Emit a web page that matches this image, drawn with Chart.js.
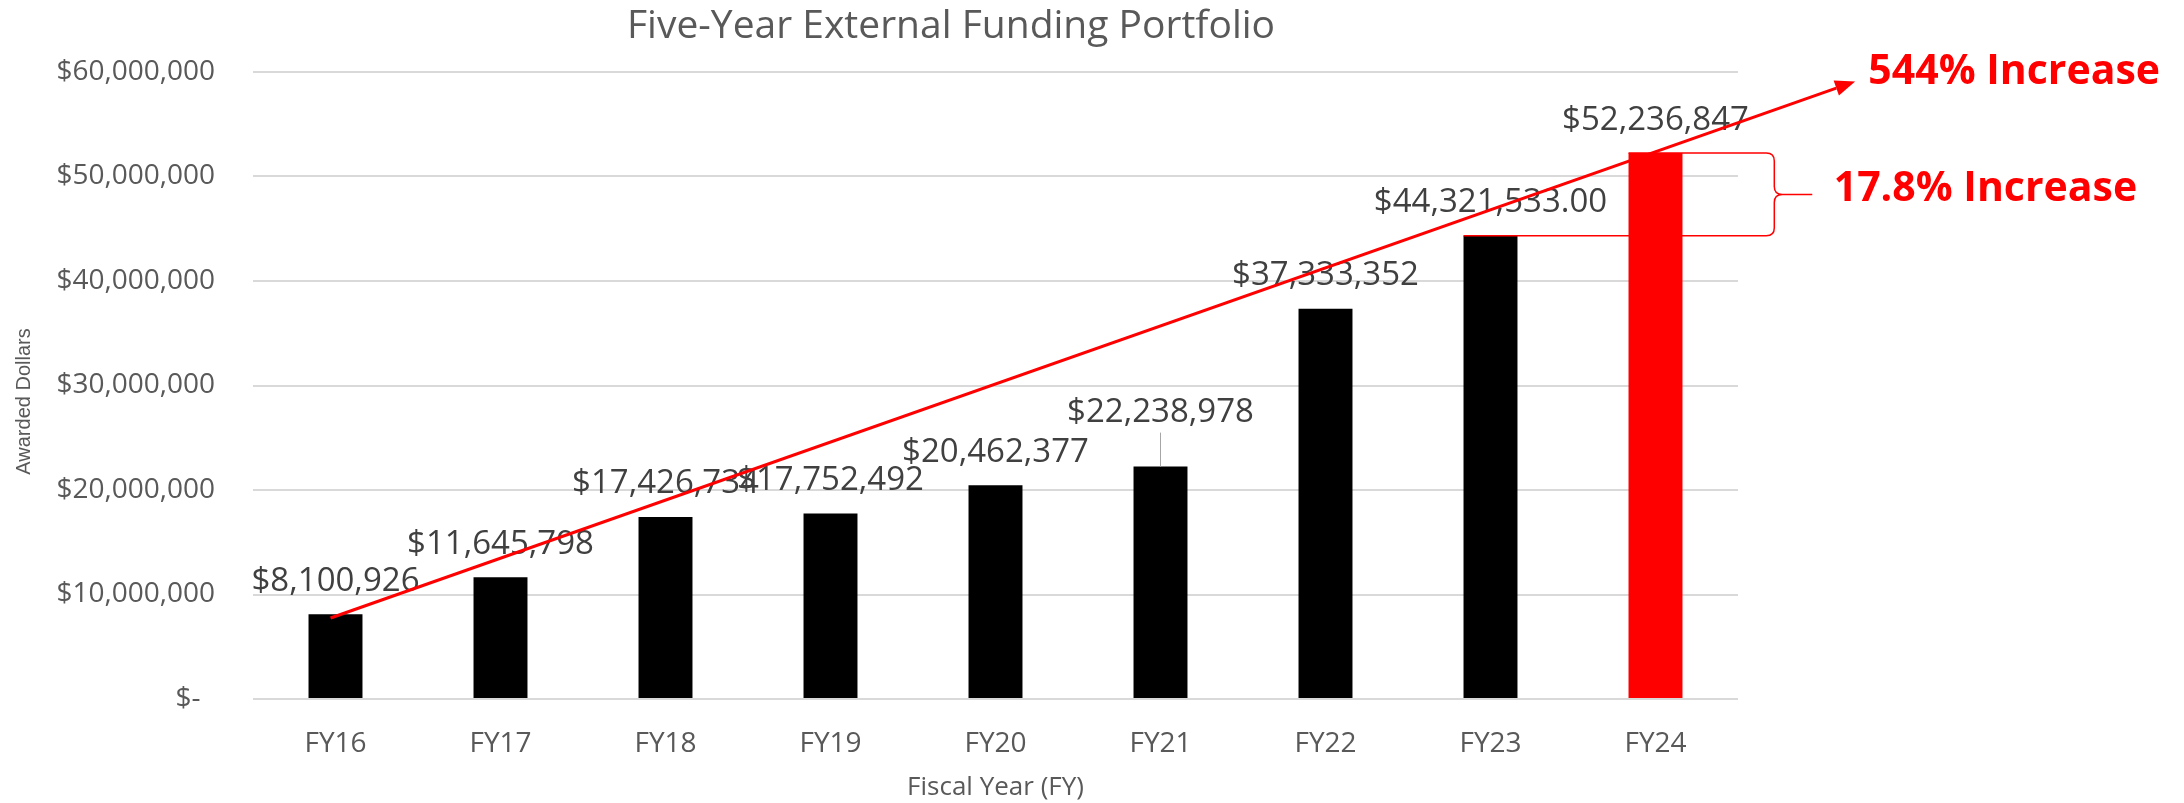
<!DOCTYPE html>
<html>
<head>
<meta charset="utf-8">
<title>Five-Year External Funding Portfolio</title>
<script src="https://cdn.jsdelivr.net/npm/chart.js@4.4.0/dist/chart.umd.min.js"></script>
<style>
  html, body { margin: 0; padding: 0; background: #fff; }
  #wrap { width: 2184px; height: 803px; }
</style>
</head>
<body>
<div id="wrap"><canvas id="chart"></canvas></div>
<script>
// values
const fiscalYears = ["FY16", "FY17", "FY18", "FY19", "FY20", "FY21", "FY22", "FY23", "FY24"];
const awarded = [8100926, 11645798, 17426734, 17752492, 20462377, 22238978, 37333352, 44321533, 52236847];
const awardedLabels = ["$8,100,926", "$11,645,798", "$17,426,734", "$17,752,492", "$20,462,377",
                       "$22,238,978", "$37,333,352", "$44,321,533.00", "$52,236,847"];
const barColors = ["#000000", "#000000", "#000000", "#000000", "#000000", "#000000", "#000000", "#000000", "#ff0000"];
const yMax = 60000000;
const yStep = 10000000;

// annotations, in category index / dollar units
const trendFrom = { i: -0.03, v: 7750000 };
const trendTo = { i: 9.21, v: 59100000 };
const trendText = "544% Increase";
const jumpText = "17.8% Increase";

Chart.defaults.font.family = "'Open Sans', sans-serif";

const overlay = {
  id: 'overlay',
  afterDatasetsDraw(chart) {
    const { ctx, chartArea, scales: { x, y } } = chart;
    const meta = chart.getDatasetMeta(0);
    const step = x.getPixelForValue(1) - x.getPixelForValue(0);
    const xAt = i => x.getPixelForValue(0) + i * step;

    ctx.save();

    // title
    ctx.font = "39px 'Open Sans'";
    ctx.fillStyle = '#595959';
    ctx.textAlign = 'center';
    ctx.textBaseline = 'middle';
    ctx.fillText('Five-Year External Funding Portfolio', 951, 27);

    // y axis title, drawn here so it sits where the original has it
    ctx.save();
    ctx.translate(24, (chartArea.top + chartArea.bottom) / 2 + 16);
    ctx.rotate(-Math.PI / 2);
    ctx.font = "20px 'Liberation Sans'";
    ctx.fillText('Awarded Dollars', 0, 0);
    ctx.restore();

    // value labels above bars
    ctx.font = "33px 'Open Sans'";
    ctx.fillStyle = '#404040';
    meta.data.forEach((bar, i) => {
      const lift = i === 5 ? 54 : 33;
      ctx.fillText(awardedLabels[i], bar.x, bar.y - lift);
      if (i === 5) {
        ctx.strokeStyle = '#a6a6a6';
        ctx.lineWidth = 1;
        ctx.beginPath();
        ctx.moveTo(bar.x, bar.y - lift + 20);
        ctx.lineTo(bar.x, bar.y);
        ctx.stroke();
      }
    });

    // brace between FY23 and FY24
    const low = meta.data[7], high = meta.data[8];
    const yLow = y.getPixelForValue(awarded[7]);
    const yHigh = y.getPixelForValue(awarded[8]);
    const ym = (yLow + yHigh) / 2;
    const xb = xAt(8.72), xt = xAt(8.95), r = 8;
    ctx.strokeStyle = '#ff0000';
    ctx.lineWidth = 1.5;
    ctx.beginPath();
    ctx.moveTo(high.x - high.width / 2, yHigh);
    ctx.lineTo(xb - r, yHigh);
    ctx.quadraticCurveTo(xb, yHigh, xb, yHigh + r);
    ctx.lineTo(xb, ym - r);
    ctx.quadraticCurveTo(xb, ym, xb + r, ym);
    ctx.lineTo(xt, ym);
    ctx.moveTo(xb + r, ym);
    ctx.quadraticCurveTo(xb, ym, xb, ym + r);
    ctx.lineTo(xb, yLow - r);
    ctx.quadraticCurveTo(xb, yLow, xb - r, yLow);
    ctx.lineTo(low.x - low.width / 2, yLow);
    ctx.stroke();

    // trend arrow
    const x0 = xAt(trendFrom.i), y0 = y.getPixelForValue(trendFrom.v);
    const x1 = xAt(trendTo.i), y1 = y.getPixelForValue(trendTo.v);
    const a = Math.atan2(y1 - y0, x1 - x0);
    const head = 20, half = 8;
    ctx.lineWidth = 3;
    ctx.beginPath();
    ctx.moveTo(x0, y0);
    ctx.lineTo(x1 - head * Math.cos(a), y1 - head * Math.sin(a));
    ctx.stroke();
    ctx.fillStyle = '#ff0000';
    ctx.beginPath();
    ctx.moveTo(x1, y1);
    ctx.lineTo(x1 - head * Math.cos(a) + half * Math.sin(a), y1 - head * Math.sin(a) - half * Math.cos(a));
    ctx.lineTo(x1 - head * Math.cos(a) - half * Math.sin(a), y1 - head * Math.sin(a) + half * Math.cos(a));
    ctx.closePath();
    ctx.fill();

    // annotation texts
    ctx.font = "bold 41px 'Open Sans'";
    ctx.textAlign = 'left';
    ctx.fillText(trendText, xAt(9.29), y.getPixelForValue(yMax));
    ctx.fillText(jumpText, xAt(9.08), ym - 5);

    ctx.restore();
  }
};

new Chart(document.getElementById('chart'), {
  type: 'bar',
  data: {
    labels: fiscalYears,
    datasets: [{
      data: awarded,
      backgroundColor: barColors,
      barPercentage: 0.327,
      categoryPercentage: 1
    }]
  },
  options: {
    responsive: true,
    maintainAspectRatio: false,
    animation: false,
    layout: { padding: { top: 72, right: 446, left: 0, bottom: 0 } },
    plugins: {
      legend: { display: false },
      tooltip: { enabled: false }
    },
    scales: {
      x: {
        grid: { display: false, drawTicks: false },
        border: { display: false },
        ticks: { color: '#595959', font: { size: 28 }, padding: 28 },
        title: {
          display: true, text: 'Fiscal Year (FY)', color: '#595959',
          font: { size: 26 }, padding: { top: 0, bottom: 0 }
        },
        afterFit(scale) { scale.height = 104; }
      },
      y: {
        min: 0,
        max: yMax,
        grid: { color: '#d9d9d9', lineWidth: 2, drawTicks: false },
        border: { display: false },
        ticks: {
          stepSize: yStep,
          padding: 38,
          color: '#595959',
          font: { size: 28 },
          callback: v => v === 0 ? '$-  ' : '$' + v.toLocaleString('en-US')
        },
        afterFit(scale) { scale.width = 253; }
      }
    }
  },
  plugins: [overlay]
});
</script>
</body>
</html>
